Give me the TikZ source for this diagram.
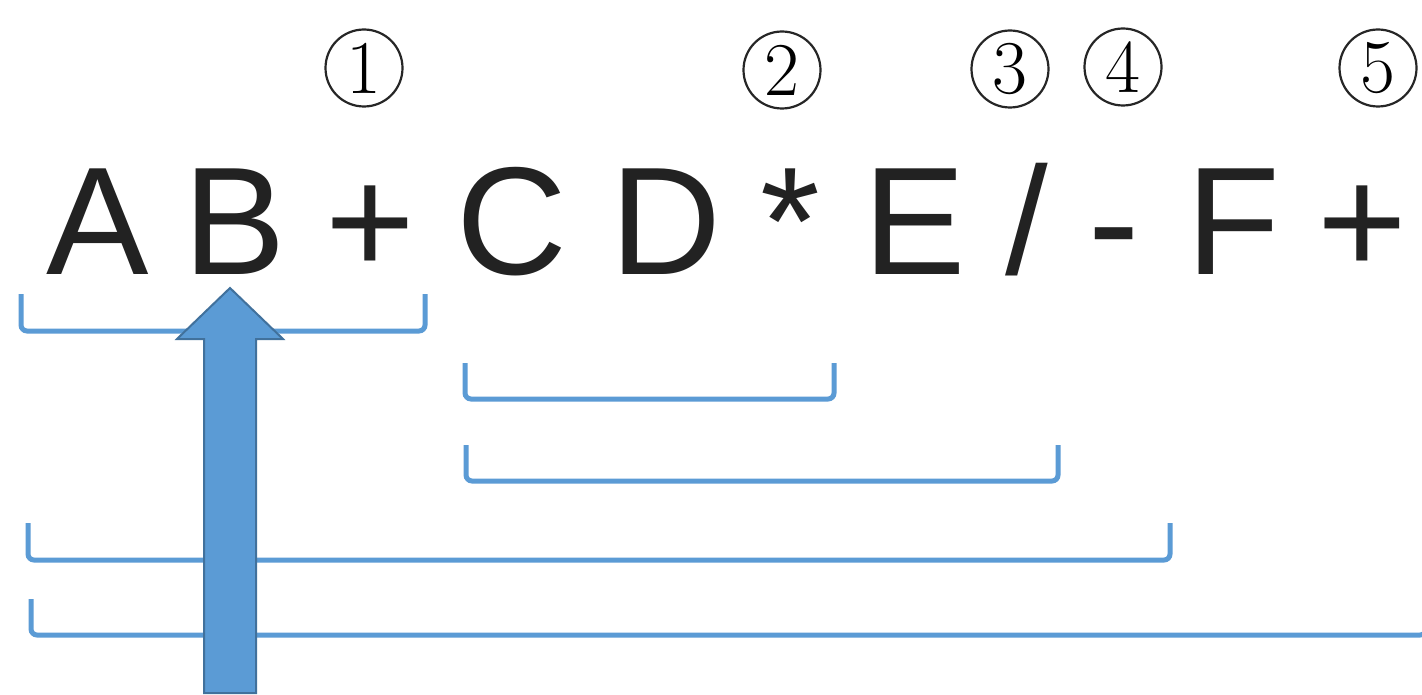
\documentclass[tikz,border=0pt]{standalone}
\usepackage{fontspec}
\setmainfont{Liberation Sans}
\newfontfamily\numfont{Latin Modern Roman}
\definecolor{brkblue}{HTML}{5B9BD5}
\definecolor{arrborder}{HTML}{41719C}
\definecolor{txt}{HTML}{222222}
\begin{document}
\begin{tikzpicture}[x=1pt,y=-1pt,
  tok/.style={font=\fontsize{153.6}{160}\selectfont, text=txt, inner sep=0pt, anchor=base},
  num/.style={circle, draw=black!85, line width=2.2pt, minimum size=77pt, inner sep=0pt,
              font=\numfont\fontsize{76}{76}\selectfont},
  brk/.style={draw=brkblue, line width=5pt, rounded corners=6pt},
  blockarrow/.style={fill=brkblue, draw=arrborder, line width=2pt, line join=miter}]
\useasboundingbox (0,0) rectangle (1422,695);
\fill[white] (0,0) rectangle (1422,695);
% tokens
\node[tok] (tA) at (98,275) {A};
\node[tok] (tB) at (235,275) {B};
\node[tok] (tp1) at (370,275) {+};
\node[tok] (tC) at (512,275) {C};
\node[tok] (tD) at (666,275) {D};
\node[tok] (tm) at (790,275) {*};
\node[tok] (tE) at (915,275) {E};
\node[tok] (ts) at (1027,275) {/};
\node[tok] (tmi) at (1114,275) {-};
\node[tok] (tF) at (1233,275) {F};
\node[tok] (tp2) at (1362,275) {+};
% circled numbers
\node[num] (n1) at (364,68) {1};
\node[num] (n2) at (782,70) {2};
\node[num] (n3) at (1010,69) {3};
\node[num] (n4) at (1123,67) {4};
\node[num] (n5) at (1378,68) {5};
% brackets
\draw[brk] (21,294) -- (21,331) -- (425,331) -- (425,294);
\draw[brk] (465,363) -- (465,399) -- (834,399) -- (834,363);
\draw[brk] (466,445) -- (466,481) -- (1058,481) -- (1058,445);
\draw[brk] (28,523) -- (28,560) -- (1170,560) -- (1170,523);
\draw[brk] (31,599) -- (31,635) -- (1426,635) -- (1426,599);
% block arrow
\draw[blockarrow] (230,288) -- (283,339) -- (256,339) -- (256,693) -- (204,693)
  -- (204,339) -- (177,339) -- cycle;
\end{tikzpicture}
\end{document}
